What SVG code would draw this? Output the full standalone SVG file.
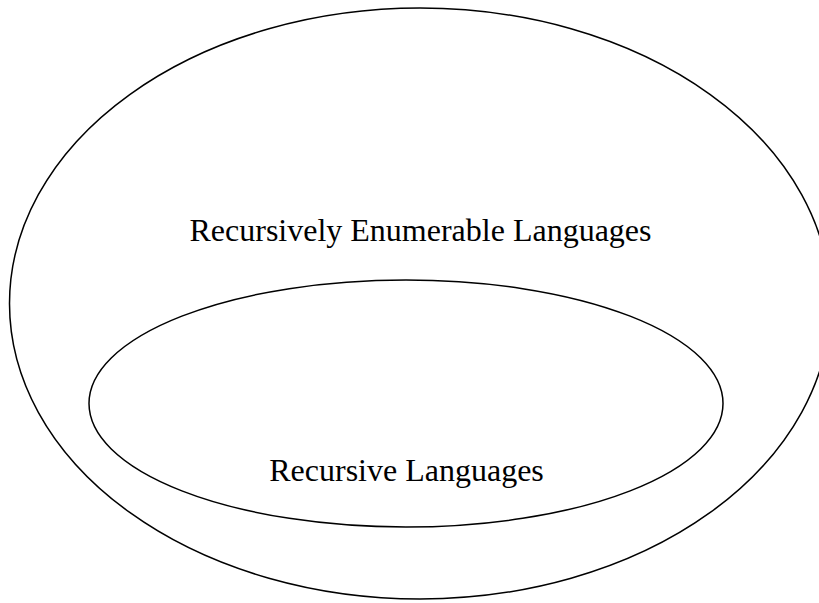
<svg xmlns="http://www.w3.org/2000/svg" width="819" height="603" viewBox="0 0 819 603">
<style>
.set{fill:none;stroke:#000;stroke-width:1.5}
.lbl{font-family:"Liberation Serif","Times New Roman",serif;font-size:32px;fill:#000;text-anchor:middle}
</style>
<rect width="819" height="603" fill="#fff"/>
<g id="re">
<ellipse class="set" cx="420" cy="303.5" rx="410.5" ry="295.5"/>
<text class="lbl" x="420.5" y="241">Recursively Enumerable Languages</text>
</g>
<g id="rec">
<ellipse class="set" cx="406" cy="403.5" rx="317" ry="123.5"/>
<text class="lbl" x="406.5" y="481">Recursive Languages</text>
</g>
<g id="connectors"></g>
</svg>
